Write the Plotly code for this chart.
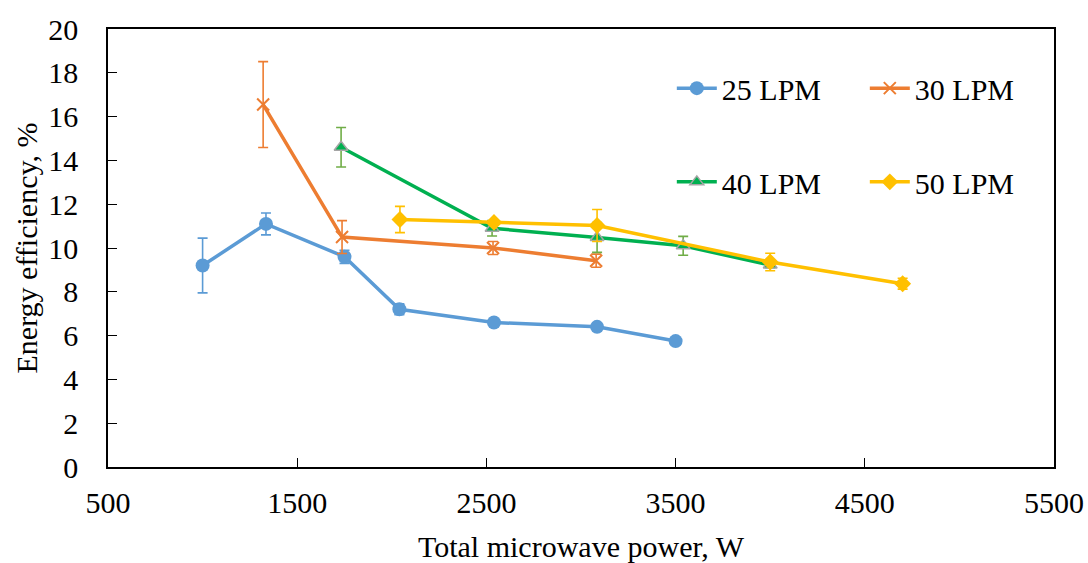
import plotly.graph_objects as go

# 25 LPM
p25 = [1000, 1335, 1750, 2040, 2540, 3085, 3500]
e25 = [9.2, 11.1, 9.6, 7.2, 6.6, 6.4, 5.75]
err25 = [1.25, 0.5, 0.3, 0.25, 0.12, 0.1, 0.08]
# 30 LPM
p30 = [1320, 1737, 2535, 3080]
e30 = [16.55, 10.5, 10.0, 9.42]
err30 = [1.96, 0.75, 0.3, 0.3]
# 40 LPM
p40 = [1732, 2530, 3085, 3540, 4000]
e40 = [14.6, 10.9, 10.48, 10.1, 9.22]
err40 = [0.9, 0.35, 0.68, 0.43, 0.12]
# 50 LPM
p50 = [2043, 2540, 3085, 4000, 4700]
e50 = [11.3, 11.17, 11.03, 9.36, 8.37]
err50 = [0.6, 0.1, 0.73, 0.4, 0.25]

x_ticks = [500, 1500, 2500, 3500, 4500, 5500]
y_ticks = [0, 2, 4, 6, 8, 10, 12, 14, 16, 18, 20]

FONT = "Liberation Serif"

fig = go.Figure()

def add(x, y, err, name, color, ecolor, symbol, size, mline_color, mline_w, legend):
    fig.add_trace(go.Scatter(
        x=x, y=y, name=name, mode="lines+markers",
        line=dict(color=color, width=3.5),
        marker=dict(symbol=symbol, size=size, color=color,
                    line=dict(color=mline_color, width=mline_w)),
        error_y=dict(type="data", array=err, visible=True, color=ecolor,
                     thickness=1.6, width=5),
        legend=legend,
    ))

add(p25, e25, err25, "25 LPM", "#5B9BD5", "#5B9BD5", "circle", 14, "#5B9BD5", 0, "legend")
add(p30, e30, err30, "30 LPM", "#ED7D31", "#ED7D31", "x-thin", 12, "#ED7D31", 2, "legend")
add(p40, e40, err40, "40 LPM", "#00B050", "#70AD47", "triangle-up", 12, "#A5A5A5", 1.5, "legend2")
add(p50, e50, err50, "50 LPM", "#FFC000", "#FFC000", "diamond", 13, "#FFC000", 0, "legend2")

legend_common = dict(orientation="h", xanchor="left", yanchor="middle",
                     font=dict(family=FONT, size=30, color="black"),
                     bgcolor="rgba(0,0,0,0)", entrywidth=138, itemwidth=40,
                     traceorder="normal")

fig.update_layout(
    width=1088, height=563,
    margin=dict(l=108, r=34, t=29, b=96),
    paper_bgcolor="white", plot_bgcolor="white",
    font=dict(family=FONT, size=30, color="black"),
    legend=dict(x=0.596, y=0.865, **legend_common),
    legend2=dict(x=0.596, y=0.651, **legend_common),
    xaxis=dict(range=[500, 5500], tickvals=x_ticks, ticktext=[str(v) for v in x_ticks],
               automargin=False,
               showgrid=False, zeroline=False, showline=True, linecolor="black",
               linewidth=1.5, mirror=True, ticks="inside", ticklen=9, tickcolor="black",
               tickfont=dict(family=FONT, size=30), ticklabelstandoff=8,
               title=dict(text="Total microwave power, W", font=dict(family=FONT, size=30),
                          standoff=20)),
    yaxis=dict(range=[0, 20], tickvals=y_ticks, showgrid=False, zeroline=False,
               automargin=False,
               showline=True, linecolor="black", linewidth=1.5, mirror=True,
               ticks="inside", ticklen=9, tickcolor="black",
               tickfont=dict(family=FONT, size=30), ticklabelstandoff=22,
               title=dict(text="Energy efficiency, %", font=dict(family=FONT, size=30),
                          standoff=2)),
)

fig.write_html("out.html")
